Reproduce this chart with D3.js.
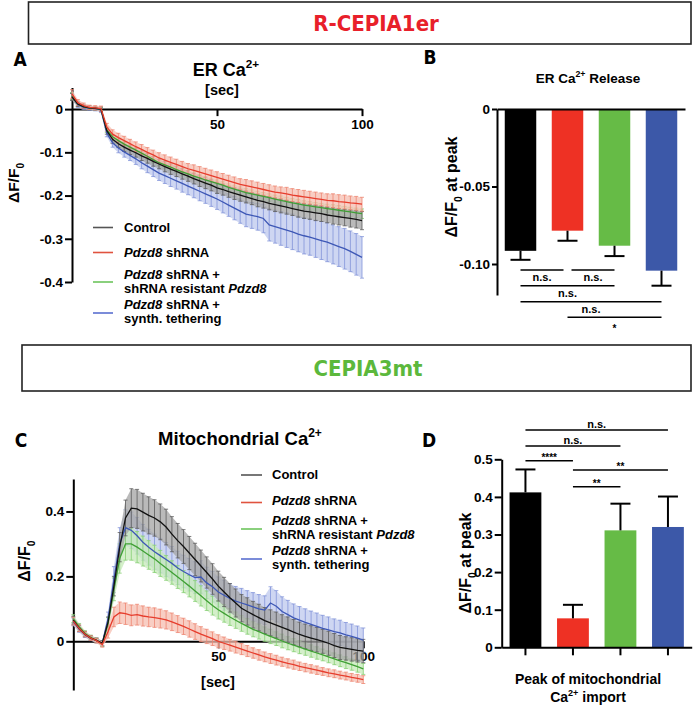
<!DOCTYPE html>
<html>
<head>
<meta charset="utf-8">
<script src="https://cdn.jsdelivr.net/npm/d3@7/dist/d3.min.js"></script>
<style>
  body { margin: 0; background: #fff; }
  text { font-family: "Liberation Sans", Arial, sans-serif; font-weight: bold; }
</style>
</head>
<body>
<svg id="fig" width="693" height="706"></svg>
<script>
// ---------- data ----------
const timeSec = [
  0, 2, 4, 6, 8, 10, 12, 14, 16, 18,
  20, 22, 24, 26, 28, 30, 32, 34, 36, 38,
  40, 42, 44, 46, 48, 50, 52, 54, 56, 58,
  60, 62, 64, 66, 68, 70, 72, 74, 76, 78,
  80, 82, 84, 86, 88, 90, 92, 94, 96, 98, 100
];

// A: ER Ca2+ (dF/F0), mean and SEM
const erControl = [
  0.028, 0.012, 0.006, 0.003, 0.002, 0.000, -0.050, -0.070, -0.080, -0.088,
  -0.095, -0.101, -0.108, -0.114, -0.121, -0.127, -0.133, -0.139, -0.144, -0.150,
  -0.155, -0.161, -0.166, -0.171, -0.176, -0.182, -0.186, -0.191, -0.195, -0.199,
  -0.203, -0.207, -0.211, -0.214, -0.218, -0.221, -0.224, -0.227, -0.230, -0.233,
  -0.236, -0.238, -0.240, -0.242, -0.245, -0.247, -0.249, -0.251, -0.253, -0.255, -0.258
];
const erControlSem = [
  0.008, 0.006, 0.005, 0.005, 0.004, 0.005, 0.008, 0.009, 0.009, 0.010,
  0.010, 0.010, 0.011, 0.011, 0.011, 0.011, 0.012, 0.012, 0.012, 0.012,
  0.012, 0.012, 0.013, 0.013, 0.013, 0.013, 0.013, 0.013, 0.014, 0.014,
  0.014, 0.014, 0.015, 0.015, 0.015, 0.016, 0.016, 0.016, 0.016, 0.017,
  0.017, 0.017, 0.018, 0.018, 0.018, 0.019, 0.019, 0.019, 0.020, 0.020, 0.021
];
const erShRNA = [
  0.035, 0.015, 0.008, 0.004, 0.003, 0.001, -0.042, -0.058, -0.066, -0.073,
  -0.080, -0.087, -0.093, -0.100, -0.106, -0.113, -0.118, -0.123, -0.128, -0.133,
  -0.138, -0.142, -0.146, -0.150, -0.154, -0.158, -0.162, -0.166, -0.170, -0.174,
  -0.177, -0.180, -0.183, -0.186, -0.189, -0.192, -0.194, -0.196, -0.199, -0.201,
  -0.203, -0.205, -0.207, -0.209, -0.211, -0.212, -0.214, -0.215, -0.217, -0.218, -0.220
];
const erShRNASem = [
  0.010, 0.007, 0.006, 0.005, 0.005, 0.006, 0.009, 0.010, 0.010, 0.010,
  0.010, 0.011, 0.011, 0.011, 0.011, 0.012, 0.012, 0.012, 0.012, 0.012,
  0.012, 0.013, 0.013, 0.013, 0.013, 0.013, 0.013, 0.013, 0.013, 0.013,
  0.014, 0.014, 0.014, 0.014, 0.014, 0.014, 0.014, 0.015, 0.015, 0.015,
  0.015, 0.015, 0.015, 0.015, 0.015, 0.016, 0.016, 0.016, 0.016, 0.016, 0.016
];
const erRescue = [
  0.030, 0.012, 0.006, 0.003, 0.002, 0.000, -0.048, -0.064, -0.073, -0.081,
  -0.088, -0.095, -0.102, -0.109, -0.117, -0.124, -0.129, -0.134, -0.140, -0.145,
  -0.150, -0.155, -0.159, -0.164, -0.168, -0.172, -0.176, -0.181, -0.185, -0.189,
  -0.193, -0.196, -0.199, -0.202, -0.205, -0.208, -0.211, -0.214, -0.217, -0.219,
  -0.222, -0.224, -0.226, -0.228, -0.230, -0.232, -0.234, -0.236, -0.238, -0.240, -0.242
];
const erRescueSem = [
  0.008, 0.005, 0.004, 0.004, 0.004, 0.004, 0.006, 0.006, 0.006, 0.006,
  0.006, 0.006, 0.007, 0.007, 0.007, 0.007, 0.007, 0.007, 0.007, 0.008,
  0.008, 0.008, 0.008, 0.008, 0.008, 0.008, 0.008, 0.008, 0.009, 0.009,
  0.009, 0.009, 0.009, 0.009, 0.009, 0.009, 0.010, 0.010, 0.010, 0.010,
  0.010, 0.010, 0.010, 0.010, 0.010, 0.011, 0.011, 0.011, 0.011, 0.011, 0.011
];
const erTether = [
  0.030, 0.010, 0.004, 0.002, 0.001, -0.002, -0.055, -0.078, -0.090, -0.099,
  -0.107, -0.115, -0.124, -0.132, -0.140, -0.148, -0.154, -0.160, -0.166, -0.172,
  -0.178, -0.184, -0.190, -0.196, -0.202, -0.208, -0.215, -0.222, -0.229, -0.236,
  -0.243, -0.246, -0.249, -0.253, -0.268, -0.272, -0.276, -0.280, -0.284, -0.289,
  -0.293, -0.296, -0.300, -0.304, -0.308, -0.313, -0.318, -0.323, -0.329, -0.336, -0.343
];
const erTetherSem = [
  0.008, 0.006, 0.005, 0.005, 0.005, 0.006, 0.009, 0.010, 0.011, 0.012,
  0.012, 0.013, 0.014, 0.015, 0.016, 0.017, 0.018, 0.019, 0.019, 0.020,
  0.020, 0.021, 0.022, 0.022, 0.023, 0.024, 0.025, 0.026, 0.027, 0.028,
  0.029, 0.030, 0.031, 0.033, 0.037, 0.038, 0.039, 0.040, 0.041, 0.041,
  0.042, 0.042, 0.043, 0.044, 0.045, 0.045, 0.046, 0.047, 0.047, 0.048, 0.048
];

// C: mitochondrial Ca2+ (dF/F0), mean and SEM
const mtControl = [
  0.065, 0.040, 0.022, 0.010, 0.003, -0.006, 0.060, 0.170, 0.290, 0.380,
  0.410, 0.408, 0.398, 0.388, 0.380, 0.368, 0.352, 0.330, 0.310, 0.292,
  0.272, 0.252, 0.232, 0.212, 0.192, 0.170, 0.152, 0.134, 0.118, 0.102,
  0.092, 0.082, 0.073, 0.064, 0.057, 0.050, 0.043, 0.036, 0.028, 0.021,
  0.015, 0.010, 0.005, 0.000, -0.006, -0.013, -0.019, -0.022, -0.025, -0.028, -0.030
];
const mtControlSem = [
  0.012, 0.010, 0.008, 0.007, 0.007, 0.008, 0.015, 0.030, 0.045, 0.055,
  0.060, 0.060, 0.058, 0.057, 0.056, 0.055, 0.055, 0.054, 0.053, 0.052,
  0.051, 0.050, 0.049, 0.048, 0.047, 0.046, 0.045, 0.044, 0.043, 0.042,
  0.042, 0.041, 0.041, 0.040, 0.040, 0.040, 0.039, 0.039, 0.039, 0.038,
  0.038, 0.038, 0.038, 0.037, 0.037, 0.037, 0.037, 0.036, 0.036, 0.036, 0.036
];
const mtShRNA = [
  0.062, 0.040, 0.022, 0.010, 0.002, -0.010, 0.030, 0.075, 0.088, 0.085,
  0.080, 0.082, 0.078, 0.075, 0.073, 0.070, 0.066, 0.060, 0.053, 0.046,
  0.038, 0.030, 0.022, 0.015, 0.008, 0.000, -0.006, -0.012, -0.018, -0.024,
  -0.030, -0.036, -0.042, -0.048, -0.053, -0.058, -0.063, -0.068, -0.072, -0.077,
  -0.081, -0.085, -0.089, -0.093, -0.097, -0.100, -0.104, -0.107, -0.111, -0.114, -0.118
];
const mtShRNASem = [
  0.012, 0.010, 0.008, 0.007, 0.007, 0.008, 0.020, 0.030, 0.033, 0.033,
  0.032, 0.032, 0.031, 0.030, 0.030, 0.029, 0.028, 0.027, 0.026, 0.025,
  0.025, 0.024, 0.023, 0.022, 0.021, 0.020, 0.019, 0.018, 0.018, 0.017,
  0.017, 0.016, 0.016, 0.015, 0.015, 0.015, 0.014, 0.014, 0.014, 0.013,
  0.013, 0.013, 0.013, 0.012, 0.012, 0.012, 0.012, 0.012, 0.012, 0.012, 0.012
];
const mtRescue = [
  0.070, 0.045, 0.025, 0.012, 0.003, -0.008, 0.055, 0.160, 0.255, 0.300,
  0.300, 0.290, 0.278, 0.266, 0.254, 0.240, 0.226, 0.212, 0.198, 0.184,
  0.170, 0.155, 0.140, 0.125, 0.110, 0.097, 0.086, 0.075, 0.065, 0.055,
  0.046, 0.037, 0.030, 0.022, 0.015, 0.008, 0.001, -0.006, -0.012, -0.018,
  -0.024, -0.030, -0.036, -0.042, -0.048, -0.054, -0.060, -0.066, -0.072, -0.078, -0.085
];
const mtRescueSem = [
  0.012, 0.010, 0.008, 0.007, 0.007, 0.008, 0.018, 0.035, 0.045, 0.050,
  0.050, 0.048, 0.046, 0.044, 0.042, 0.040, 0.038, 0.036, 0.035, 0.034,
  0.033, 0.032, 0.031, 0.030, 0.029, 0.028, 0.027, 0.026, 0.025, 0.024,
  0.024, 0.023, 0.023, 0.022, 0.022, 0.021, 0.021, 0.020, 0.020, 0.020,
  0.019, 0.019, 0.019, 0.018, 0.018, 0.018, 0.018, 0.018, 0.017, 0.017, 0.017
];
const mtTether = [
  0.060, 0.038, 0.020, 0.009, 0.002, -0.006, 0.070, 0.190, 0.300, 0.350,
  0.342, 0.325, 0.305, 0.290, 0.276, 0.264, 0.252, 0.240, 0.226, 0.215,
  0.205, 0.196, 0.198, 0.180, 0.168, 0.152, 0.142, 0.132, 0.124, 0.118,
  0.112, 0.106, 0.100, 0.096, 0.118, 0.108, 0.092, 0.082, 0.072, 0.065,
  0.058, 0.052, 0.046, 0.040, 0.035, 0.030, 0.026, 0.020, 0.015, 0.010, 0.004
];
const mtTetherSem = [
  0.012, 0.010, 0.008, 0.007, 0.007, 0.008, 0.020, 0.040, 0.050, 0.055,
  0.056, 0.056, 0.055, 0.055, 0.054, 0.053, 0.052, 0.052, 0.051, 0.050,
  0.050, 0.049, 0.050, 0.048, 0.047, 0.046, 0.046, 0.045, 0.045, 0.045,
  0.044, 0.044, 0.044, 0.044, 0.050, 0.048, 0.045, 0.044, 0.043, 0.042,
  0.042, 0.041, 0.041, 0.040, 0.040, 0.039, 0.039, 0.038, 0.038, 0.037, 0.037
];

// B and D: peak values per group
const erRelease = [-0.0915, -0.0785, -0.0882, -0.1043];
const erReleaseSem = [0.0058, 0.0065, 0.0067, 0.0097];
const mitoPeak = [0.412, 0.077, 0.311, 0.320];
const mitoPeakSem = [0.061, 0.036, 0.071, 0.081];

// significance comparisons [group i, group j]
const sigPairsB = [[0, 1], [1, 2], [0, 2], [0, 3], [1, 3]];
const sigLabelsB = ["n.s.", "n.s.", "n.s.", "n.s.", "*"];
const sigPairsD = [[0, 3], [0, 2], [0, 1], [1, 3], [1, 2]];
const sigLabelsD = ["n.s.", "n.s.", "****", "**", "**"];

// ---------- styles ----------
const FONT = '"Liberation Sans", Arial, sans-serif';
const NARROW = '"Liberation Sans Narrow", "DejaVu Sans Condensed", sans-serif';
const lineColor = ["#111111", "#e63d2d", "#3f9f35", "#3d57b5"];
const errColor = ["#5c5c5c", "#ee8672", "#86cf74", "#8394d9"];
const bandColor = ["#a3a3a3", "#f6bdb0", "#c6eab8", "#bec8ee"];
const barColor = ["#000000", "#ee3124", "#66bb46", "#3c58a8"];
const legendColor = ["#555555", "#e0533f", "#6cc45c", "#5a6fd0"];
const drawOrder = [3, 2, 0, 1];

const svg = d3.select("#fig");
svg.append("rect").attr("width", 693).attr("height", 706).attr("fill", "#fff");

// text with italic / super / subscript segments
function rich(sel, segs, fs) {
  let shift = 0;
  segs.forEach(([s, st]) => {
    const ts = sel.append("tspan").text(s);
    let target = 0;
    if (st === "sup") target = -0.42 * fs;
    if (st === "sub") target = 0.3 * fs;
    if (target !== shift) ts.attr("dy", target - shift);
    shift = target;
    if (st === "sup" || st === "sub") ts.attr("font-size", 0.65 * fs);
    if (st === "i") ts.attr("font-style", "italic");
  });
}

function label(x, y, segs, fs, opts = {}) {
  const t = svg.append("text").attr("x", x).attr("y", y)
    .attr("font-size", fs).attr("text-anchor", opts.anchor || "middle")
    .attr("fill", opts.fill || "#000");
  if (opts.family) t.style("font-family", opts.family);
  if (opts.rotate) t.attr("transform", `rotate(-90,${x},${y})`);
  rich(t, segs, fs);
  return t;
}

function styleAxis(g, fs) {
  g.attr("font-family", FONT).attr("font-size", fs);
  g.select(".domain").attr("stroke-width", 2);
  g.selectAll(".tick line").attr("stroke-width", 2);
  g.selectAll(".tick text").attr("font-weight", "bold");
}

function titleBox(x0, y0, x1, y1, text, color, cx, base) {
  svg.append("rect").attr("x", x0).attr("y", y0).attr("width", x1 - x0).attr("height", y1 - y0)
    .attr("fill", "none").attr("stroke", "#222").attr("stroke-width", 1.6);
  label(cx, base, [[text, ""]], 22, { fill: color, family: NARROW });
}

// ---------- time course panels ----------
function timeCourse(o) {
  const x = d3.scaleLinear().domain([0, 100]).range(o.xRange);
  const y = d3.scaleLinear().domain(o.yDomain).range(o.yRange);
  const g = svg.append("g");

  const ya = g.append("g").attr("transform", `translate(${o.xRange[0]},0)`)
    .call(d3.axisLeft(y).tickValues(o.yTicks).tickSize(7).tickSizeOuter(0).tickPadding(2)
      .tickFormat(v => v === 0 ? "0" : v.toFixed(1)));
  styleAxis(ya, 13.5);
  const xa = g.append("g").attr("transform", `translate(0,${y(0)})`)
    .call(d3.axisBottom(x).tickValues([50, 100]).tickSize(7).tickSizeOuter(0).tickPadding(3));
  styleAxis(xa, 13.5);

  const pts = o.mean.map(m => m.map((v, i) => ({ t: timeSec[i], m: v, e: 0 })));
  pts.forEach((p, k) => p.forEach((d, i) => { d.e = o.sem[k][i]; }));

  const area = d3.area().x(d => x(d.t)).y0(d => y(d.m - d.e)).y1(d => y(d.m + d.e));
  drawOrder.forEach(k => {
    const s = g.append("g");
    s.append("path").datum(pts[k]).attr("d", area).attr("fill", bandColor[k]).attr("opacity", 0.75);
    const bars = s.selectAll("g.eb").data(pts[k]).join("g").attr("stroke", errColor[k]).attr("stroke-width", 0.8);
    bars.append("line").attr("x1", d => x(d.t)).attr("x2", d => x(d.t))
      .attr("y1", d => y(d.m - d.e)).attr("y2", d => y(d.m + d.e));
    bars.append("line").attr("x1", d => x(d.t) - 2).attr("x2", d => x(d.t) + 2)
      .attr("y1", d => y(d.m + d.e)).attr("y2", d => y(d.m + d.e));
    bars.append("line").attr("x1", d => x(d.t) - 2).attr("x2", d => x(d.t) + 2)
      .attr("y1", d => y(d.m - d.e)).attr("y2", d => y(d.m - d.e));
  });
  const line = d3.line().x(d => x(d.t)).y(d => y(d.m));
  drawOrder.forEach(k => {
    g.append("path").datum(pts[k]).attr("d", line).attr("fill", "none")
      .attr("stroke", lineColor[k]).attr("stroke-width", 1.3);
  });
}

const legendSegs = [
  [[["Control", ""]]],
  [[["Pdzd8", "i"], [" shRNA", ""]]],
  [[["Pdzd8", "i"], [" shRNA +", ""]], [["shRNA resistant ", ""], ["Pdzd8", "i"]]],
  [[["Pdzd8", "i"], [" shRNA +", ""]], [["synth. tethering", ""]]]
];

function legend(x0, x1, tx, swatchY, baseY) {
  legendSegs.forEach((lines, k) => {
    svg.append("line").attr("x1", x0).attr("x2", x1).attr("y1", swatchY[k]).attr("y2", swatchY[k])
      .attr("stroke", legendColor[k]).attr("stroke-width", 1.6);
    lines.forEach((segs, j) => label(tx, baseY[k][j], segs, 13, { anchor: "start" }));
  });
}

// ---------- bar panels ----------
function barPanel(o) {
  const x = d3.scaleBand().domain(d3.range(4)).range(o.xRange).paddingInner(0.33).paddingOuter(0.165);
  const y = d3.scaleLinear().domain(o.yDomain).range(o.yRange);
  const g = svg.append("g");
  const cx = i => x(i) + x.bandwidth() / 2;

  g.selectAll("rect.bar").data(o.values).join("rect")
    .attr("x", (d, i) => x(i)).attr("width", x.bandwidth())
    .attr("y", d => Math.min(y(d), y(0))).attr("height", d => Math.abs(y(d) - y(0)))
    .attr("fill", (d, i) => barColor[i]);

  o.values.forEach((v, i) => {
    const end = v + Math.sign(v) * o.sem[i];
    g.append("line").attr("x1", cx(i)).attr("x2", cx(i)).attr("y1", y(v)).attr("y2", y(end))
      .attr("stroke", "#000").attr("stroke-width", 2);
    g.append("line").attr("x1", cx(i) - 10).attr("x2", cx(i) + 10).attr("y1", y(end)).attr("y2", y(end))
      .attr("stroke", "#000").attr("stroke-width", 2);
  });

  const ya = g.append("g").attr("transform", `translate(${o.xRange[0]},0)`)
    .call(d3.axisLeft(y).tickValues(o.yTicks).tickSize(o.tickSize).tickSizeOuter(0).tickPadding(2)
      .tickFormat(o.fmt));
  styleAxis(ya, 13.5);
  const xa = g.append("g").attr("transform", `translate(0,${y(0)})`)
    .call(d3.axisBottom(x).tickSize(o.xTicks ? 8 : 0).tickSizeOuter(0).tickFormat(""));
  styleAxis(xa, 13.5);

  // significance lines
  o.pairs.forEach(([i, j], n) => {
    const ly = o.sigY[n];
    let a = cx(i), b = cx(j);
    o.pairs.forEach(([p, q], m) => {
      if (m !== n && o.sigY[m] === ly) {
        if (p === j) b -= 4;
        if (q === i) a += 4;
      }
    });
    g.append("line").attr("x1", a).attr("x2", b).attr("y1", ly).attr("y2", ly)
      .attr("stroke", "#000").attr("stroke-width", 1.5);
    const star = o.labels[n].startsWith("*");
    const ty = o.below ? ly + (star ? 15 : 11) : ly - (star ? 0 : 2);
    label((a + b) / 2, ty, [[o.labels[n], ""]], star ? 10 : 11);
  });
}

// ---------- layout ----------
titleBox(28.5, 2, 691, 44, "R-CEPIA1er", "#e8202a", 376, 31);
titleBox(22, 345, 691, 391, "CEPIA3mt", "#5cb83c", 368, 376);

label(20, 66, [["A", ""]], 19, { family: NARROW });
label(430, 64, [["B", ""]], 19, { family: NARROW });
label(21, 447, [["C", ""]], 19, { family: NARROW });
label(429, 447, [["D", ""]], 19, { family: NARROW });

// Panel A
label(226, 76, [["ER Ca", ""], ["2+", "sup"]], 18);
label(222, 95, [["[sec]", ""]], 14.5);
label(19, 183, [["ΔF/F", ""], ["0", "sub"]], 15.5, { rotate: true });
timeCourse({
  xRange: [72, 362], yDomain: [-0.4, 0.05], yRange: [282, 87.5],
  yTicks: [0, -0.1, -0.2, -0.3, -0.4],
  mean: [erControl, erShRNA, erRescue, erTether],
  sem: [erControlSem, erShRNASem, erRescueSem, erTetherSem]
});
legend(93, 113, 124, [227.5, 252.5, 282, 313], [[232], [256.5], [278.5, 292.5], [309, 323]]);

// Panel B
label(588, 83, [["ER Ca", ""], ["2+", "sup"], [" Release", ""]], 13.5);
label(457, 187, [["ΔF/F", ""], ["0", "sub"], [" at peak", ""]], 16, { rotate: true });
barPanel({
  xRange: [497, 685], yDomain: [-0.12, 0], yRange: [295, 109],
  yTicks: [0, -0.05, -0.1], tickSize: 5, fmt: v => v === 0 ? "0" : v.toFixed(2),
  values: erRelease, sem: erReleaseSem, xTicks: false,
  pairs: sigPairsB, labels: sigLabelsB, sigY: [270, 270, 285.7, 301.7, 317.3], below: true
});

// Panel C
label(240, 445, [["Mitochondrial Ca", ""], ["2+", "sup"]], 18.5);
label(218, 687, [["[sec]", ""]], 14.5);
label(30, 561, [["ΔF/F", ""], ["0", "sub"]], 16, { rotate: true });
timeCourse({
  xRange: [73.3, 363.3], yDomain: [-0.15, 0.5], yRange: [690, 479],
  yTicks: [0, 0.2, 0.4],
  mean: [mtControl, mtShRNA, mtRescue, mtTether],
  sem: [mtControlSem, mtShRNASem, mtRescueSem, mtTetherSem]
});
legend(241, 262, 272, [475, 502.5, 529, 559], [[479], [504.5], [525, 539], [555, 569]]);

// Panel D
label(471, 563, [["ΔF/F", ""], ["0", "sub"], [" at peak", ""]], 16, { rotate: true });
barPanel({
  xRange: [501.7, 691.7], yDomain: [0, 0.5], yRange: [647.3, 459.3],
  yTicks: [0, 0.1, 0.2, 0.3, 0.4, 0.5], tickSize: 7, fmt: v => v === 0 ? "0" : v.toFixed(1),
  values: mitoPeak, sem: mitoPeakSem, xTicks: true,
  pairs: sigPairsD, labels: sigLabelsD, sigY: [430, 446, 460.7, 470, 486.7], below: false
});
label(588, 684, [["Peak of mitochondrial", ""]], 14);
label(588, 702, [["Ca", ""], ["2+", "sup"], [" import", ""]], 14);
</script>
</body>
</html>
